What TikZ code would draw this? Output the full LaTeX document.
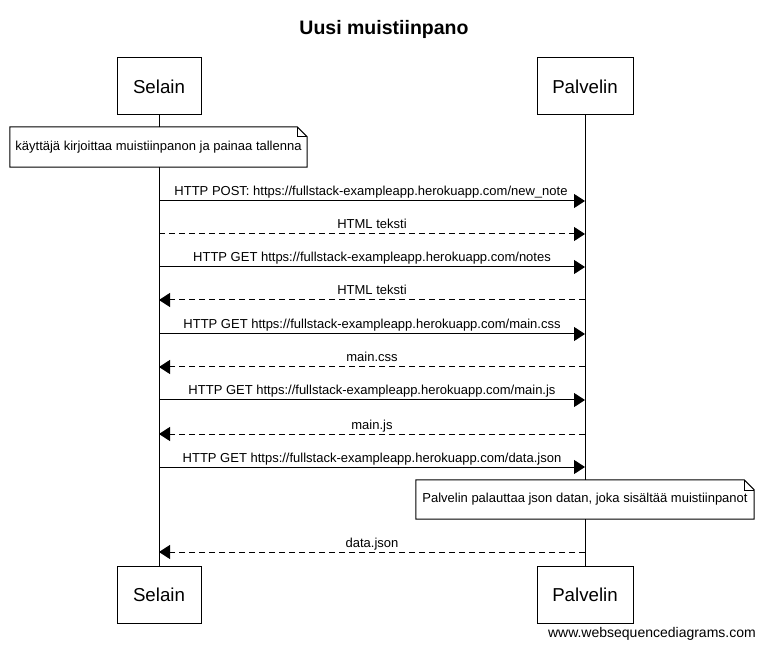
\documentclass[tikz,border=0pt]{standalone}
\usepackage{fontspec}
\setmainfont{Liberation Sans}
\usetikzlibrary{arrows.meta}
\tikzset{
  actor/.style={draw,line width=1pt,fill=white,minimum height=57pt,inner sep=0pt,font=\fontsize{18.7}{22}\selectfont},
  notebox/.style={fill=white,inner sep=0pt,minimum height=40pt,font=\fontsize{13}{16}\selectfont},
  lbl/.style={anchor=base,inner sep=0pt,font=\fontsize{13}{16}\selectfont},
  msg/.style={line width=1pt,-{Triangle[length=11pt,width=14pt]}},
  reply/.style={msg,dash pattern=on 6pt off 4pt},
  life/.style={line width=1pt}
}
\newcommand{\notefold}[1]{%
  \draw[line width=1pt] (#1.north west) -- ([xshift=-10pt]#1.north east) -- ([yshift=-10pt]#1.north east) -- (#1.south east) -- (#1.south west) -- cycle;
  \draw[line width=0.6pt] ([xshift=-10pt]#1.north east) -- ([xshift=-10pt,yshift=-10pt]#1.north east) -- ([yshift=-10pt]#1.north east);}
\begin{document}
\begin{tikzpicture}[x=1pt,y=-1pt]
\useasboundingbox[fill=white] (0,0) rectangle (764,647);
\node[anchor=base,font=\fontsize{19.5}{23}\selectfont\bfseries] (title) at (384,35) {Uusi muistiinpano};
% actors
\node[actor,minimum width=84pt] (s0) at (159,86.5) {Selain};
\node[actor,minimum width=96pt] (p0) at (585,86.5) {Palvelin};
\node[actor,minimum width=84pt] (s1) at (159,594.5) {Selain};
\node[actor,minimum width=96pt] (p1) at (585,594.5) {Palvelin};
% lifelines
\draw[life] (s0.south) -- (s1.north);
\draw[life] (p0.south) -- (p1.north);
% note 1
\node[notebox,minimum width=297pt] (n1) at (158.5,147) {käyttäjä kirjoittaa muistiinpanon ja painaa tallenna};
\notefold{n1}
% message coordinates
\foreach \i/\y in {1/201,2/234,3/267,4/300,5/334,6/367,7/400,8/434,9/467,10/552}{
  \coordinate (a\i) at (159,\y);
  \coordinate (b\i) at (585,\y);
}
\draw[msg] (a1) -- (b1);
\node[lbl] (l1) at (371,196) {HTTP POST: https://fullstack-exampleapp.herokuapp.com/new\_note};
\draw[reply] (a2) -- (b2);
\node[lbl] (l2) at (372,229) {HTML teksti};
\draw[msg] (a3) -- (b3);
\node[lbl] (l3) at (372,262) {HTTP GET https://fullstack-exampleapp.herokuapp.com/notes};
\draw[reply] (b4) -- (a4);
\node[lbl] (l4) at (372,295) {HTML teksti};
\draw[msg] (a5) -- (b5);
\node[lbl] (l5) at (372,329) {HTTP GET https://fullstack-exampleapp.herokuapp.com/main.css};
\draw[reply] (b6) -- (a6);
\node[lbl] (l6) at (372,362) {main.css};
\draw[msg] (a7) -- (b7);
\node[lbl] (l7) at (372,395) {HTTP GET https://fullstack-exampleapp.herokuapp.com/main.js};
\draw[reply] (b8) -- (a8);
\node[lbl] (l8) at (372,429) {main.js};
\draw[msg] (a9) -- (b9);
\node[lbl] (l9) at (372,462) {HTTP GET https://fullstack-exampleapp.herokuapp.com/data.json};
% note 2
\node[notebox,minimum width=338pt,minimum height=39pt] (n2) at (585,499.5) {Palvelin palauttaa json datan, joka sisältää muistiinpanot};
\notefold{n2}
\draw[reply] (b10) -- (a10);
\node[lbl] (l10) at (372,547) {data.json};
% footer
\node[anchor=base east,inner sep=0pt,font=\fontsize{14}{17}\selectfont] (web) at (756,637) {www.websequencediagrams.com};
\end{tikzpicture}
\end{document}
